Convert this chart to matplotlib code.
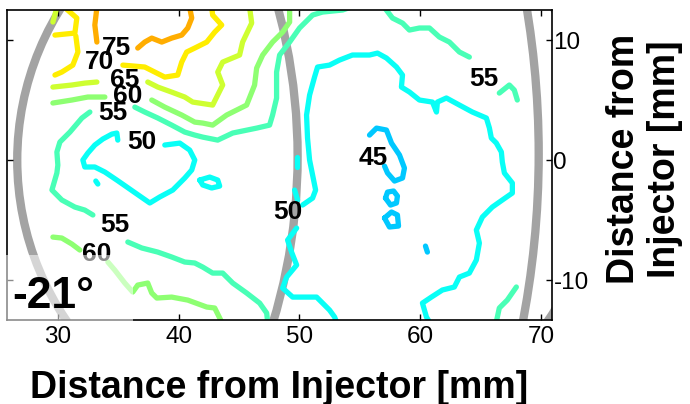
import numpy as np
import matplotlib
matplotlib.use('Agg')
import matplotlib.pyplot as plt
from matplotlib.colors import LinearSegmentedColormap, Normalize
from matplotlib.patches import Circle, Rectangle

plt.rcParams['font.family'] = ['Liberation Sans', 'DejaVu Sans']
plt.rcParams['axes.unicode_minus'] = False

# isotherm traces [mm], one list of (x, y) segments per level
contour_45 = [
    ([55.80, 56.38, 57.20, 57.62, 58.28, 58.69, 58.53, 57.87, 57.29, 57.04],
     [2.08, 2.66, 2.50, 1.41, 0.42, -0.67, -1.50, -1.75, -1.08, -0.50]),
    ([57.12, 57.29, 57.79, 58.11, 58.03, 57.54, 57.12],
     [-3.17, -2.67, -2.58, -3.00, -3.58, -3.75, -3.17]),
    ([57.04, 57.62, 58.11, 58.20, 57.45, 57.04],
     [-4.83, -4.33, -4.58, -5.50, -5.58, -4.83]),
    ([60.43, 60.59], [-7.17, -7.67]),
]
contour_50 = [
    ([38.86, 40.10, 40.92, 41.34, 41.09, 40.51, 39.52, 38.44, 37.62, 36.79, 35.72,
      34.89, 33.90, 33.07, 32.24, 32.08, 32.49, 33.07, 33.73, 34.48, 34.89, 34.97],
     [1.25, 1.41, 0.83, 0.00, -0.83, -1.50, -2.50, -3.08, -3.58, -3.00, -2.25,
      -1.67, -1.00, -0.58, -0.58, 0.00, 0.58, 1.25, 1.75, 2.16, 2.25, 1.66]),
    ([41.75, 42.58, 43.24, 43.40, 42.74, 42.00, 41.75],
     [-1.67, -1.42, -1.67, -2.17, -2.33, -2.08, -1.67]),
    ([33.15, 33.32], [-1.75, -2.00]),
    ([53.07, 52.91, 52.49, 51.42, 49.44, 48.61, 48.94, 49.77, 49.35, 49.02, 49.77],
     [-13.50, -13.08, -12.50, -11.42, -11.42, -10.67, -9.75, -8.75, -7.67, -6.67, -5.67]),
    ([50.26, 51.09, 51.34, 51.09, 50.84, 50.67, 50.59, 50.84, 51.25, 51.50, 52.49,
      53.32, 54.39, 55.80, 56.46, 57.20, 58.03, 58.53, 58.44, 59.10, 59.93, 61.01,
      61.34, 61.42, 62.16, 63.24, 64.31, 65.47, 65.72, 65.88, 66.29, 66.71, 66.79,
      66.96, 67.62, 67.62, 66.79, 65.96, 65.14, 64.64, 64.89, 64.64, 64.06, 63.24,
      62.82, 61.83, 60.92, 60.18, 60.51, 60.76],
     [-3.75, -3.17, -2.50, -1.25, 0.00, 1.83, 3.75, 5.41, 6.91, 7.75, 7.91,
      8.33, 8.75, 8.75, 8.91, 8.50, 7.75, 7.08, 6.08, 5.67, 5.00, 4.83,
      4.00, 4.83, 5.17, 4.58, 4.00, 3.50, 2.67, 1.83, 1.42, 0.67, -0.17,
      -1.08, -1.92, -2.75, -3.33, -3.92, -4.75, -5.83, -6.92, -8.33, -9.42, -9.75,
      -10.58, -10.83, -11.42, -11.92, -13.08, -13.50]),
    ([49.77, 49.77], [0.25, -0.58]),
    ([49.60, 49.85], [-2.50, -3.33]),
]
contour_55 = [
    ([32.66, 32.00, 31.01, 30.18, 29.93, 30.01, 29.93, 29.52, 30.34, 31.42, 32.24, 32.91],
     [4.00, 3.50, 2.33, 1.50, 0.67, -0.42, -1.08, -2.50, -3.33, -3.92, -4.17, -4.58]),
    ([36.38, 37.20, 38.28, 39.43, 40.51, 41.34, 42.00, 43.24, 44.48, 46.46, 47.53,
      47.78, 48.11, 48.11, 48.36, 49.19, 50.01, 51.09, 51.91, 53.57, 54.15],
     [4.41, 4.00, 3.50, 2.91, 2.33, 2.08, 1.91, 1.66, 2.25, 2.66, 2.91,
      3.75, 5.16, 7.33, 8.75, 9.83, 11.00, 12.08, 12.33, 12.50, 12.70]),
    ([35.80, 36.96, 38.28, 39.43, 40.51, 41.34, 42.00, 42.82, 43.65, 44.48, 45.63,
      46.71, 47.29, 47.37],
     [-6.83, -7.33, -7.67, -8.08, -8.50, -8.58, -8.92, -9.42, -9.42, -10.25, -11.08,
      -11.92, -12.75, -13.50]),
    ([57.04, 57.70, 58.53, 59.10, 59.93, 60.76, 61.58, 62.41, 63.24, 64.06],
     [12.70, 11.83, 11.41, 10.83, 11.00, 11.00, 10.25, 9.83, 9.00, 8.58]),
    ([66.54, 67.37, 67.78, 68.03], [5.58, 6.25, 5.83, 5.00]),
    ([67.95, 67.20, 66.54, 66.29], [-10.58, -11.67, -12.33, -13.50]),
]
contour_60 = [
    ([29.60, 31.17, 32.49, 33.90], [4.75, 5.00, 5.25, 5.25]),
    ([37.78, 38.86, 40.26, 41.34, 42.00, 42.82, 43.98, 45.63, 46.29, 46.46, 46.96,
      47.78, 48.61, 49.19, 49.19],
     [5.00, 4.41, 3.75, 3.16, 3.08, 2.91, 3.75, 4.58, 6.25, 7.66, 8.75,
      9.83, 10.66, 11.50, 12.70]),
    ([29.60, 30.34, 31.17, 31.83], [-6.42, -6.50, -7.00, -7.50]),
    ([34.15, 34.72, 35.55, 36.21, 36.62, 37.45, 37.78, 38.20, 39.43, 40.76, 42.33,
      42.99, 43.57],
     [-8.50, -9.17, -10.25, -11.00, -10.42, -10.25, -11.08, -11.50, -11.42, -11.67, -12.25,
      -12.33, -13.50]),
]
contour_65 = [
    ([29.93, 29.60], [12.70, 11.50]),
    ([29.60, 31.17, 32.24, 33.24], [6.08, 6.25, 6.41, 6.50]),
    ([37.45, 38.28, 39.43, 40.51, 41.17, 42.82, 43.65, 43.24, 43.65, 45.05, 45.30,
      46.05, 45.88],
     [6.50, 6.08, 5.66, 5.25, 4.83, 4.58, 6.25, 7.33, 8.16, 8.75, 9.83,
      11.41, 12.70]),
]
contour_70 = [
    ([30.59, 31.58, 31.42, 29.77], [12.70, 11.83, 10.58, 10.41]),
    ([31.50, 31.67, 31.25, 30.34, 29.77], [10.33, 9.00, 7.91, 7.33, 7.08]),
    ([35.39, 37.20, 38.03, 38.86, 39.93, 40.26, 40.67, 41.34, 42.33, 42.99, 43.57,
      42.82, 42.74],
     [7.91, 7.75, 7.33, 6.91, 7.08, 8.16, 9.00, 9.33, 9.83, 10.66, 11.25,
      12.08, 12.70]),
]
contour_75 = [
    ([33.24, 33.07, 33.24], [12.70, 11.25, 9.83]),
    ([36.62, 37.20, 37.78, 38.61, 39.43, 40.26, 40.76, 41.09, 40.92],
     [9.33, 9.83, 10.16, 9.83, 10.16, 10.41, 11.00, 11.83, 12.70]),
]

# inline level labels
label_levels = [75, 70, 65, 60, 55, 50, 55, 60, 50, 45, 55]
label_x = [34.89, 33.48, 35.55, 35.80, 34.56, 36.96, 34.72, 33.24, 49.02, 56.13, 65.30]
label_y = [9.33, 8.17, 6.67, 5.33, 3.92, 1.50, -5.42, -7.83, -4.33, 0.17, 6.75]

# bowl outline arcs: centre x, centre y, radius [mm]
arc_cx = [50.65, 1.85, -5.2]
arc_cy = [0.0, 0.3, 0.5]
arc_r = [24.0, 48.0, 75.0]

crank_angle = '-21°'

contours = {45: contour_45, 50: contour_50, 55: contour_55, 60: contour_60,
            65: contour_65, 70: contour_70, 75: contour_75}

jet = LinearSegmentedColormap.from_list(
    'jet_m', [(0, (0, 0, 0.5)), (0.125, (0, 0, 1)), (0.375, (0, 1, 1)),
              (0.625, (1, 1, 0)), (0.875, (1, 0, 0)), (1, (0.5, 0, 0))])
norm = Normalize(vmin=20, vmax=98)

fig = plt.figure(figsize=(6.9, 4.04), dpi=100)
ax = fig.add_axes([0.0101, 0.2079, 0.7899, 0.7673])

for cx, cy, r in zip(arc_cx, arc_cy, arc_r):
    ax.add_patch(Circle((cx, cy), r, fill=False, lw=6, ec='#a3a3a3', zorder=1))

for lev, segs in contours.items():
    col = jet(norm(lev))
    for xs, ys in segs:
        ax.plot(xs, ys, color=col, lw=3.8, solid_capstyle='round', zorder=2)

for lev, x, y in zip(label_levels, label_x, label_y):
    ax.text(x, y, str(lev), fontsize=19, fontweight='bold', ha='center',
            va='center', zorder=3)

ax.set_xlim(25.8, 70.9)
ax.set_ylim(-13.33, 12.5)
ax.set_xticks([30, 40, 50, 60, 70])
ax.set_yticks([-10, 0, 10])
ax.tick_params(direction='in', top=True, bottom=True, left=True, right=True,
               labelleft=False, labelright=True, length=4, width=1,
               labelsize=17.5)
ax.tick_params(axis='x', pad=4)
ax.tick_params(axis='y', pad=1)
for sp in ax.spines.values():
    sp.set_linewidth(1.2)

# faded corner box holding the crank angle
ax.add_patch(Rectangle((-0.013, -0.01), 0.244, 0.22, transform=ax.transAxes,
                       fc='white', ec='none', alpha=0.55, zorder=5, clip_on=False))
ax.text(0.009, 0.039, crank_angle, transform=ax.transAxes, fontsize=32,
        fontweight='bold', ha='left', va='baseline', zorder=6)

ax.set_xlabel('Distance from Injector [mm]', fontsize=27, fontweight='bold')
ax.xaxis.label.set_va('baseline')
ax.xaxis.set_label_coords(0.5, -0.25)
ax.yaxis.set_label_position('right')
ax.set_ylabel('Distance from\nInjector [mm]', fontsize=27, fontweight='bold',
              rotation=90, ha='center', va='center')
ax.yaxis.set_label_coords(1.17, 0.52)

fig.savefig('out.png', dpi=100)
